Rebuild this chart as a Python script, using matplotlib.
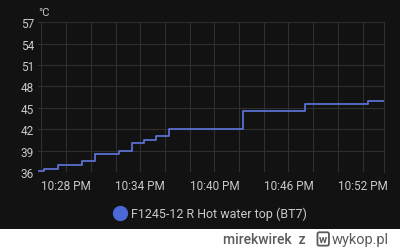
"""Hot water top temperature (BT7), dark dashboard style."""

from datetime import datetime

import matplotlib

matplotlib.use("Agg")
import matplotlib.dates as mdates
import matplotlib.pyplot as plt
from matplotlib.lines import Line2D
from matplotlib.patches import Rectangle

# step change times (HH:MM:SS) and the temperature held from that time on
step_times = ["22:25:35", "22:26:12", "22:27:18", "22:29:18", "22:30:18", "22:32:18",
              "22:33:18", "22:34:18", "22:35:18", "22:36:18", "22:42:18", "22:47:21",
              "22:52:24", "22:53:46"]
step_temps = [36.1, 36.5, 37.0, 37.5, 38.6, 39.0, 40.1, 40.5, 41.0, 42.0, 44.5, 45.5,
              46.0, 46.0]
y_ticks = [36, 39, 42, 45, 48, 51, 54, 57]
series_label = "F1245-12 R Hot water top (BT7)"
unit_label = "°C"

BG = "#121212"
GRID = "#2f2f2f"
TEXT = "#c9c9c9"
LINE = "#5b70d0"
MARK = "#5a5a5a"

plt.rcParams["font.family"] = ["Roboto", "DejaVu Sans"]

times = [datetime.strptime("2024-01-01 " + t, "%Y-%m-%d %H:%M:%S") for t in step_times]

fig = plt.figure(figsize=(4.0, 2.51), dpi=100, facecolor=BG)
ax = fig.add_axes([0.095, 0.31, 0.865, 0.598])
ax.set_facecolor(BG)

ax.step(times, step_temps, where="post", color=LINE, linewidth=1.3)

ax.set_xlim(datetime(2024, 1, 1, 22, 25, 43), datetime(2024, 1, 1, 22, 53, 44))
ax.set_ylim(36, 57)
ax.set_yticks(y_ticks)

ax.xaxis.set_major_locator(mdates.MinuteLocator(byminute=range(28, 60, 6)))
ax.xaxis.set_major_formatter(mdates.DateFormatter("%-I:%M %p"))
ax.xaxis.set_minor_locator(mdates.MinuteLocator(byminute=range(0, 60, 2)))

ax.grid(True, which="both", axis="x", color=GRID, linewidth=0.8)
ax.grid(True, which="major", axis="y", color=GRID, linewidth=0.8)
ax.set_axisbelow(True)

ax.tick_params(axis="both", which="both", length=0, colors=TEXT, labelsize=8.5)
ax.tick_params(axis="y", pad=3)
ax.tick_params(axis="x", pad=5)
for side in ["top", "bottom", "left"]:
    ax.spines[side].set_visible(False)
ax.spines["right"].set_color(GRID)
ax.spines["right"].set_linewidth(0.8)

fig.text(0.095, 0.95, unit_label, color=TEXT, fontsize=8, ha="left", va="center")

# legend entry
fig.add_artist(Line2D([0.30], [0.147], marker="o", markersize=10, color="#4a68d6",
                      linestyle="none", transform=fig.transFigure))
fig.text(0.327, 0.148, series_label, color=TEXT, fontsize=9, ha="left", va="center")

# white watermark band at the bottom
fig.add_artist(Rectangle((0, 0), 1, 0.084, transform=fig.transFigure,
                         facecolor="white", edgecolor="none"))
fig.text(0.765, 0.044, "mirekwirek  z", color=MARK, fontsize=10,
         ha="right", va="center", fontweight="medium")
fig.text(0.808, 0.044, "w", color=MARK, fontsize=8, ha="center", va="center",
         fontweight="bold",
         bbox=dict(boxstyle="round,pad=0.15", facecolor="white", edgecolor=MARK,
                   linewidth=1.3))
fig.text(0.83, 0.044, "wykop.pl", color=MARK, fontsize=10.5, ha="left", va="center")

fig.savefig("out.png", dpi=100, facecolor=BG)
